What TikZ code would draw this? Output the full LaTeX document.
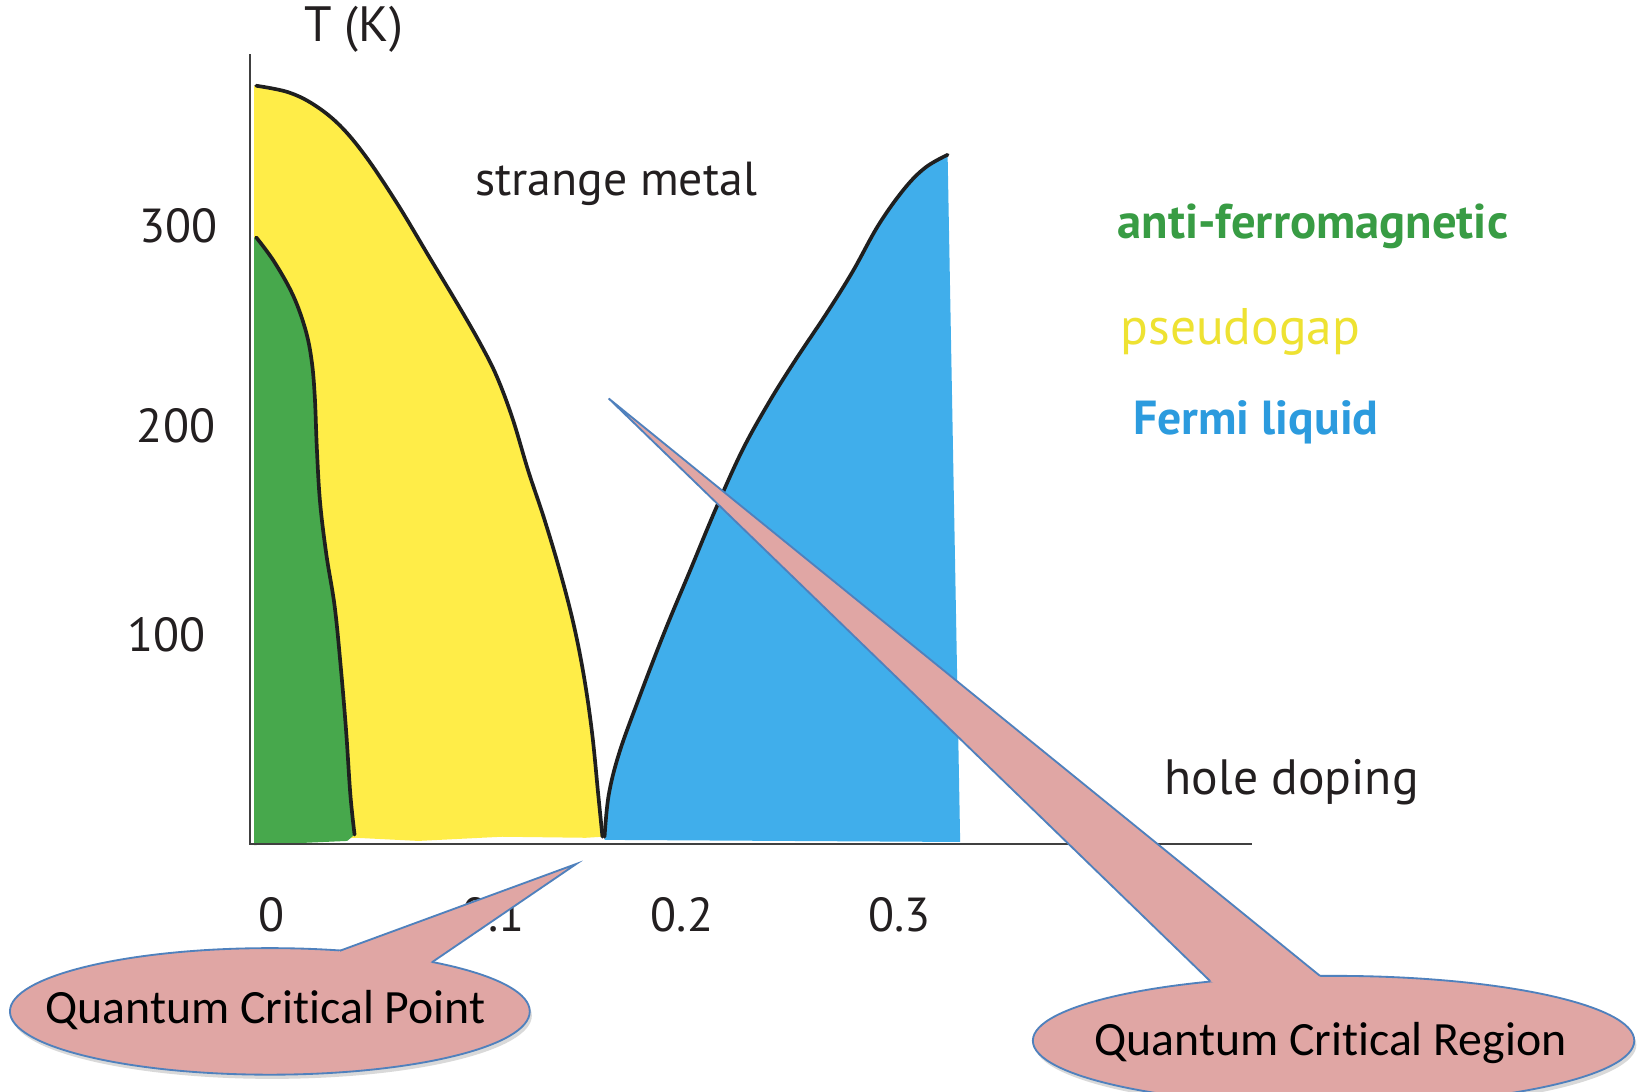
\documentclass[tikz,border=0pt]{standalone}
\usepackage{fontspec}
\setmainfont{PT Sans}
\newfontfamily\callfont[Ligatures=NoCommon]{Carlito}
\usetikzlibrary{shapes.geometric}
\definecolor{afgreen}{RGB}{71,168,76}
\definecolor{pgyellow}{RGB}{255,237,72}
\definecolor{flblue}{RGB}{64,174,235}
\definecolor{callpink}{RGB}{224,166,164}
\definecolor{callblue}{RGB}{79,129,189}
\definecolor{txtgray}{RGB}{35,31,32}
\definecolor{afteext}{RGB}{56,156,68}
\definecolor{pgtext}{RGB}{238,226,50}
\definecolor{fltext}{RGB}{44,155,222}
\begin{document}
\begin{tikzpicture}[x=0.02cm,y=-0.02cm,
  bound/.style={line width=2pt, draw=black!88, line cap=round, line join=round},
  axisline/.style={line width=1pt, draw=black!75},
  lbl/.style={font=\fontsize{26}{31}\selectfont, text=txtgray, inner sep=0pt},
  legend/.style={font=\fontsize{26}{31}\selectfont\bfseries, inner sep=0pt, anchor=west},
  callout/.style={ellipse, fill=callpink, draw=callblue, line width=1pt, inner sep=0pt},
  calltext/.style={font=\callfont\fontsize{26}{31}\selectfont, text=black, inner sep=0pt},
  shadowst/.style={ellipse, fill=black, opacity=0.15, inner sep=0pt}
]
\useasboundingbox (0,0) rectangle (1568,1044);
\fill[white] (0,0) rectangle (1568,1044);

% ---------- regions ----------
\fill[pgyellow] (243,806) -- (243,82) -- plot[smooth, tension=0.6] coordinates {
  (245,82) (275,88) (300,100) (325,120) (350,150) (380,195) (410,245) (440,295)
  (460,330) (475,360) (490,400) (505,450) (520,495) (535,545) (548,595) (558,645)
  (566,700) (572,760) (576,800)} -- (560,801) -- (480,800) -- (400,804) -- (340,801) -- cycle;

\fill[afgreen] (243,808) -- (243,227) -- plot[smooth, tension=0.6] coordinates {
  (245,227) (262,250) (280,282) (292,315) (298,345) (301,380) (303,430) (306,480)
  (312,530) (320,580) (326,640) (331,700) (335,760) (339,798)} -- (332,804) -- cycle;

\fill[flblue] (578,803) -- plot[smooth, tension=0.6] coordinates {
  (578,800) (582,760) (592,720) (610,670) (635,605) (660,545) (685,485) (710,430)
  (735,385) (760,345) (790,300) (815,260) (840,215) (865,180) (885,160) (906,148)}
  -- (918,805) -- cycle;

% ---------- boundaries ----------
\draw[bound] plot[smooth, tension=0.6] coordinates {
  (245,82) (275,88) (300,100) (325,120) (350,150) (380,195) (410,245) (440,295)
  (460,330) (475,360) (490,400) (505,450) (520,495) (535,545) (548,595) (558,645)
  (566,700) (572,760) (576,800)};
\draw[bound] plot[smooth, tension=0.6] coordinates {
  (245,227) (262,250) (280,282) (292,315) (298,345) (301,380) (303,430) (306,480)
  (312,530) (320,580) (326,640) (331,700) (335,760) (339,798)};
\draw[bound] plot[smooth, tension=0.6] coordinates {
  (578,800) (582,760) (592,720) (610,670) (635,605) (660,545) (685,485) (710,430)
  (735,385) (760,345) (790,300) (815,260) (840,215) (865,180) (885,160) (906,148)};

% ---------- axes ----------
\coordinate (ytop) at (239,52);
\coordinate (orig) at (239,807);
\coordinate (xend) at (1197,807);
\draw[axisline] (ytop) -- (orig) -- (xend);

% ---------- axis labels ----------
\node[lbl, font=\fontsize{27}{32}\selectfont] (tk) at (338,28) {T (K)};
\node[lbl, anchor=east] (y300) at (208,216) {300};
\node[lbl, anchor=east] (y200) at (206,407) {200};
\node[lbl, anchor=east] (y100) at (197,607) {100};
\node[lbl] (x0) at (260,875) {0};
\node[lbl] (x01) at (472,875) {0.1};
\node[lbl] (x02) at (652,875) {0.2};
\node[lbl] (x03) at (860,875) {0.3};
\node[lbl] (sm) at (589,176) {strange metal};
\node[lbl, font=\fontsize{27}{32}\selectfont] (hd) at (1235,748) {hole doping};

% ---------- legend ----------
\node[legend, text=afteext, font=\fontsize{26.5}{31}\selectfont\bfseries] (laf) at (1068,216) {anti-ferromagnetic};
\node[legend, text=pgtext, font=\fontsize{28}{33}\selectfont] (lpg) at (1071,317) {pseudogap};
\node[legend, text=fltext] (lfl) at (1083,404) {Fermi liquid};

% ---------- callout 1 ----------
\node[shadowst, minimum width=497*0.02cm, minimum height=121*0.02cm] at (260,971) {};
\node[callout, minimum width=497*0.02cm, minimum height=121*0.02cm] (qcp) at (258,967) {};
\coordinate (qcptip) at (551,826);
\coordinate (qcpl) at (325,909);
\coordinate (qcpr) at (413,920);
\fill[callpink] (qcpl) -- (qcptip) -- (qcpr) -- (qcp.center) -- cycle;
\draw[callblue, line width=1pt, line join=miter] (qcpl) -- (qcptip) -- (qcpr);
\node[calltext] (qcpt) at (254,966) {Quantum Critical Point};

% ---------- callout 2 ----------
\node[shadowst, minimum width=575*0.02cm, minimum height=124*0.02cm] at (1277,999) {};
\node[callout, minimum width=575*0.02cm, minimum height=124*0.02cm] (qcr) at (1275,995) {};
\coordinate (qcrtip) at (582,381);
\coordinate (qcrl) at (1157,938);
\coordinate (qcrr) at (1262,933);
\fill[callpink] (qcrl) -- (qcrtip) -- (qcrr) -- (qcr.center) -- cycle;
\draw[callblue, line width=1pt, line join=miter] (qcrl) -- (qcrtip) -- (qcrr);
\node[calltext] (qcrt) at (1272,997) {Quantum Critical Region};
\end{tikzpicture}
\end{document}
